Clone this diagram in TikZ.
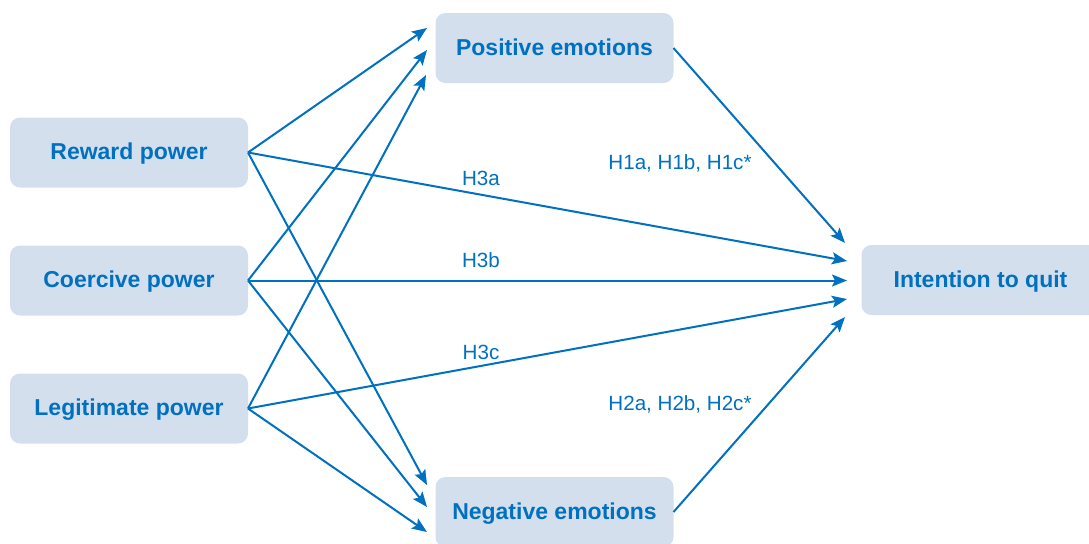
\documentclass[tikz,border=0pt]{standalone}
\usepackage{fontspec}
\setmainfont{Liberation Sans}
\usetikzlibrary{arrows.meta,calc}
\definecolor{pathblue}{RGB}{0,112,192}
\definecolor{boxfill}{RGB}{212,223,238}
\begin{document}
\begin{tikzpicture}[x=0.5pt,y=-0.5pt,
  construct/.style={rectangle, rounded corners=5pt, fill=boxfill, draw=none,
    minimum width=119pt, minimum height=35pt, inner sep=0pt, outer sep=0pt,
    text height=0.72em, text depth=0pt,
    text=pathblue, font=\fontsize{11.5}{13}\selectfont\bfseries},
  path arrow/.style={draw=pathblue, line width=1pt,
    -{Stealth[length=7.5pt,width=6pt,inset=1.5pt]}},
  hyp/.style={text=pathblue, font=\fontsize{10.3}{12}\selectfont, inner sep=0pt,
    text height=0.72em, text depth=0pt}]
\useasboundingbox (0,0) rectangle (1089,543);
\clip (0,0) rectangle (1089,543);

% constructs
\node[construct] (rew) at (129,152.5) {Reward power};
\node[construct] (coe) at (129,280.5) {Coercive power};
\node[construct] (leg) at (129,408.5) {Legitimate power};
\node[construct] (pos) at (554.5,48) {Positive emotions};
\node[construct] (neg) at (554.5,512) {Negative emotions};
\node[construct] (itq) at (980.5,280) {Intention to quit};

% arrow end points in front of the target boxes
\coordinate (p1) at (427,28);
\coordinate (p2) at (427,50);
\coordinate (p3) at (426,75);
\coordinate (n1) at (427,485);
\coordinate (n2) at (427,507);
\coordinate (n3) at (427,532);
\coordinate (q1) at (845,243);
\coordinate (q2) at (847,261);
\coordinate (q3) at (847,280.5);
\coordinate (q4) at (847,299);
\coordinate (q5) at (845,317);

% power bases -> emotions
\draw[path arrow] (rew.east) -- (p1);
\draw[path arrow] (coe.east) -- (p2);
\draw[path arrow] (leg.east) -- (p3);
\draw[path arrow] (rew.east) -- (n1);
\draw[path arrow] (coe.east) -- (n2);
\draw[path arrow] (leg.east) -- (n3);

% direct effects on intention to quit
\draw[path arrow] (rew.east) -- (q2);
\draw[path arrow] (coe.east) -- (q3);
\draw[path arrow] (leg.east) -- (q4);

% emotions -> intention to quit
\draw[path arrow] (pos.east) -- (q1);
\draw[path arrow] (neg.east) -- (q5);

% hypothesis labels
\node[hyp] (h3a) at (481,178) {H3a};
\node[hyp] (h3b) at (481,260) {H3b};
\node[hyp] (h3c) at (481,352) {H3c};
\node[hyp] (h1) at (680,162) {H1a, H1b, H1c*};
\node[hyp] (h2) at (680,403) {H2a, H2b, H2c*};
\end{tikzpicture}
\end{document}
